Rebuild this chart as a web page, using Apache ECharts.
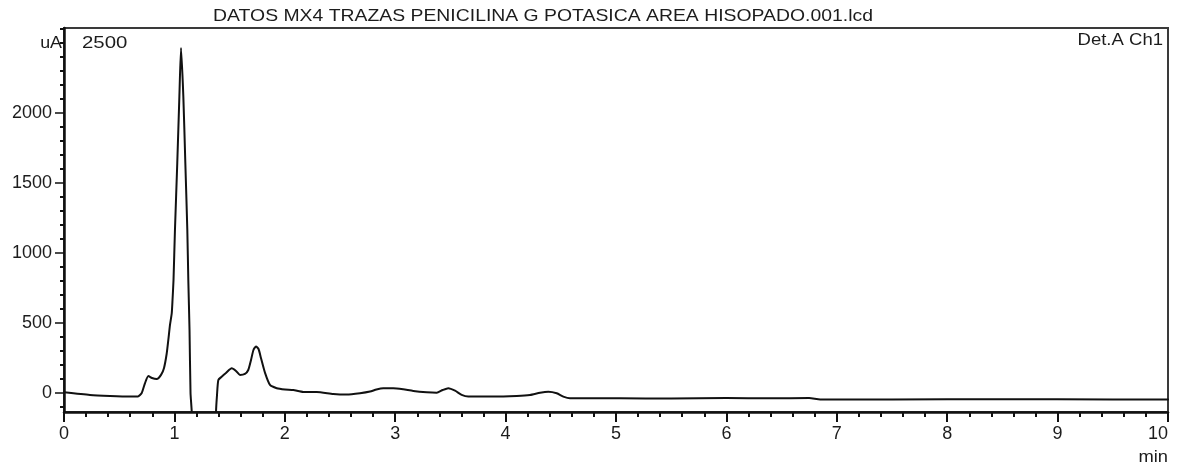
<!DOCTYPE html>
<html>
<head>
<meta charset="utf-8">
<script src="https://cdn.jsdelivr.net/npm/echarts@6/dist/echarts.min.js"></script>
<style>
  html, body { margin: 0; padding: 0; background: #ffffff; }
  #chart { width: 1179px; height: 472px; }
</style>
</head>
<body>
<div id="chart"></div>
<script>
// Chromatogram: detector A, channel 1
const TITLE = 'DATOS MX4 TRAZAS PENICILINA G POTASICA AREA HISOPADO.001.lcd';
const CHANNEL = 'Det.A Ch1';
const Y_UNIT = 'uA';
const X_UNIT = 'min';

// Retention time (min)
const timeMin = [
  0, 0.235, 0.417, 0.598, 0.670, 0.704, 0.734, 0.764, 0.797, 0.840,
  0.879, 0.906, 0.930, 0.945, 0.960, 0.976, 0.983, 0.992, 1.005, 1.026,
  1.045, 1.060, 1.081, 1.099, 1.117, 1.126, 1.137, 1.146, 1.157, 1.162,
  1.370, 1.377, 1.386, 1.398, 1.428, 1.467, 1.519, 1.558, 1.594, 1.639,
  1.669, 1.694, 1.716, 1.739, 1.762, 1.784, 1.821, 1.866, 1.927, 2.002,
  2.077, 2.168, 2.289, 2.439, 2.561, 2.681, 2.772, 2.830, 2.892, 2.983,
  3.073, 3.164, 3.285, 3.376, 3.430, 3.481, 3.542, 3.602, 3.662, 3.889,
  4.101, 4.221, 4.312, 4.387, 4.463, 4.523, 4.583, 5.036, 5.500, 6.000,
  6.400, 6.750, 6.850, 7.500, 8.500, 9.500, 10
];

// Detector response (uA)
const signalUA = [
  5, -14, -21, -25, -25, 0, 71, 121, 107, 100,
  129, 179, 280, 379, 486, 571, 664, 807, 1164, 1643,
  2117, 2464, 2117, 1643, 1164, 807, 450, 0, -136, -500,
  -500, -136, -14, 93, 116, 143, 176, 157, 129, 136,
  164, 236, 307, 332, 314, 250, 143, 57, 34, 25,
  21, 7, 7, -7, -11, -2, 10, 25, 34, 34,
  26, 14, 5, 2, 21, 34, 16, -14, -26, -26,
  -21, -14, 2, 9, -2, -26, -38, -38, -40, -36,
  -38, -36, -46, -46, -45, -46, -46
];

const xRange = [0, 10];
const yRange = [-136, 2607];
const yMajorTicks = [0, 500, 1000, 1500, 2000];
const yMinorTicks = [
  -100, 100, 200, 300, 400, 600, 700, 800, 900, 1100, 1200, 1300, 1400,
  1600, 1700, 1800, 1900, 2100, 2200, 2300, 2400, 2500, 2600
];
const yTopValue = 2500;

const FONT = "'Liberation Sans', Arial, sans-serif";
const TEXT = '#1c1c1c';
const INK = '#111111';

const seriesData = timeMin.map((t, i) => [t, signalUA[i]]);

const chart = echarts.init(document.getElementById('chart'), null, { renderer: 'canvas' });

chart.setOption({
  animation: false,
  backgroundColor: '#ffffff',
  grid: {
    left: 64, right: 11, top: 28, bottom: 60,
    show: true, borderColor: '#3a3a3a', borderWidth: 2, backgroundColor: 'transparent'
  },
  xAxis: {
    type: 'value',
    min: xRange[0], max: xRange[1], interval: 1,
    axisLine: { show: true, onZero: false, lineStyle: { color: INK, width: 2.5 } },
    axisTick: { show: true, inside: false, length: 10, lineStyle: { color: INK, width: 2 } },
    minorTick: { show: true, splitNumber: 5, length: 5, lineStyle: { color: INK, width: 2 } },
    axisLabel: {
      show: true, margin: 13, color: TEXT, fontFamily: FONT, fontSize: 18,
      alignMaxLabel: 'right',
      formatter: (v) => String(v)
    },
    splitLine: { show: false },
    minorSplitLine: { show: false }
  },
  yAxis: [
    {
      type: 'value',
      min: yRange[0], max: yRange[1],
      axisLine: { show: true, onZero: false, lineStyle: { color: INK, width: 2.5 } },
      axisTick: { show: true, inside: false, length: 9, customValues: yMajorTicks,
                  lineStyle: { color: INK, width: 1.5 } },
      axisLabel: { show: true, margin: 12, customValues: yMajorTicks,
                   color: TEXT, fontFamily: FONT, fontSize: 18,
                   formatter: (v) => String(v) },
      splitLine: { show: false }
    },
    {
      type: 'value',
      min: yRange[0], max: yRange[1],
      position: 'left',
      axisLine: { show: false },
      axisTick: { show: true, inside: false, length: 4, customValues: yMinorTicks,
                  lineStyle: { color: INK, width: 2 } },
      axisLabel: { show: false },
      splitLine: { show: false }
    }
  ],
  series: [{
    type: 'line',
    name: CHANNEL,
    data: seriesData,
    xAxisIndex: 0,
    yAxisIndex: 0,
    showSymbol: false,
    smooth: 0.2,
    clip: true,
    lineStyle: { color: INK, width: 2, join: 'round', cap: 'round' }
  }]
});

// Unit and header texts placed from the axis scales
const topPx = chart.convertToPixel({ yAxisIndex: 0 }, yTopValue);
const xEndPx = chart.convertToPixel({ xAxisIndex: 0 }, xRange[1]);
const xStartPx = chart.convertToPixel({ xAxisIndex: 0 }, xRange[0]);
const yBottomPx = chart.convertToPixel({ yAxisIndex: 0 }, yRange[0]);
const yTopPx = chart.convertToPixel({ yAxisIndex: 0 }, yRange[1]);

function label(text, x, y, align, sx) {
  return {
    type: 'text', x: x, y: y, scaleX: sx || 1,
    style: { text: text, font: '17px ' + FONT, fill: TEXT, align: align, verticalAlign: 'middle' }
  };
}

chart.setOption({
  graphic: [
    label(TITLE, 543, 16, 'center', 1.14),
    label(Y_UNIT, xStartPx - 2, topPx, 'right', 1.05),
    label(String(yTopValue), xStartPx + 18, topPx, 'left', 1.2),
    label(CHANNEL, xEndPx - 5, yTopPx + 12, 'right', 1.09),
    label(X_UNIT, xEndPx, yBottomPx + 45, 'right', 1.08)
  ]
});
</script>
</body>
</html>
